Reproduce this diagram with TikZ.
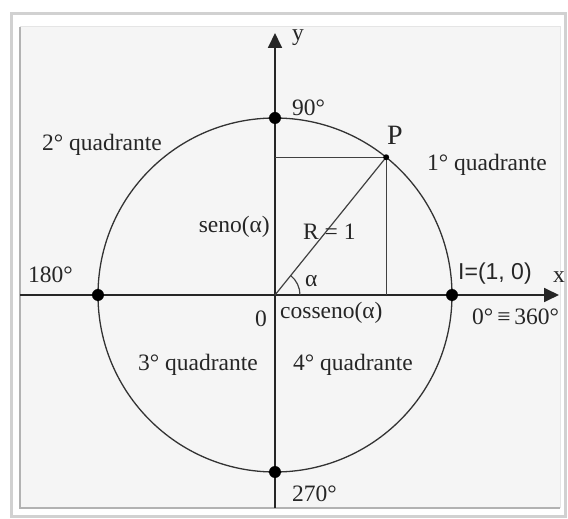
\documentclass[tikz,border=0pt]{standalone}
\usepackage{fontspec}
\setmainfont{Liberation Serif}
\newfontfamily\arialfont{Liberation Sans}
\usetikzlibrary{arrows.meta}

\begin{document}
\begin{tikzpicture}[
  x=1pt,y=1pt,
  font=\fontsize{23.5}{28}\selectfont,
  >={Triangle[length=15pt,width=14pt]},
  axis/.style={->,line width=1.8pt,draw=black!85},
  guide/.style={line width=1.2pt,draw=black!75},
  dot/.style={circle,fill=black,inner sep=0pt,minimum size=12pt},
  lbl/.style={inner sep=0pt,anchor=base west,text=black!85}
]
\useasboundingbox (-275,-224) rectangle (293,295);

% frame
\fill[white] (-275,-224) rectangle (293,295);
\draw[black!18,line width=3pt] (-263,-221) rectangle (290,281);
\fill[white] (-261,-219) rectangle (288,279);
\fill[black!4] (-255,-213) rectangle (285,268);
\draw[black!30,line width=2pt] (-255,268) -- (-255,-213) -- (285,-213);
\draw[black!10,line width=1pt] (-255,268) -- (285,268) -- (285,-213);

% points
\coordinate (O) at (0,0);
\coordinate (xstart) at (-255,0);
\coordinate (xend) at (284,0);
\coordinate (ybot) at (0,-213);
\coordinate (ytop) at (0,262);
\coordinate (P) at (51.1:177);
\coordinate (Px) at (P |- O);
\coordinate (Py) at (P -| O);

% circle and axes
\draw[line width=1.3pt,draw=black!80] (O) circle[radius=177];
\draw[axis] (xstart) -- (xend);
\draw[axis] (ybot) -- (ytop);

% triangle
\draw[guide] (O) -- (P);
\draw[guide] (P) -- (Px);
\draw[guide] (P) -- (Py);
\draw[guide] (25,0) arc[start angle=0,end angle=51.1,radius=25];

\node[dot] (d90) at (0,177) {};
\node[dot] (d180) at (-177,0) {};
\node[dot] (d0) at (177,0) {};
\node[dot] (d270) at (0,-177) {};
\node[circle,fill=black,inner sep=0pt,minimum size=6pt] (pdot) at (P) {};

% labels
\node[lbl] (ylab) at (17,254) {y};
\node[lbl] (l90) at (17,179) {90°};
\node[lbl] (q2) at (-233,144) {2° quadrante};
\node[lbl,font=\fontsize{28}{32}\selectfont] (plab) at (112,150) {P};
\node[lbl] (q1) at (152,124) {1° quadrante};
\node[lbl,anchor=base east] (seno) at (-5,62) {seno(α)};
\node[lbl] (rlab) at (28,55) {R = 1};
\node[lbl] (alab) at (30,8) {α};
\node[lbl] (l180) at (-247,12) {180°};
\node[lbl,font=\arialfont\fontsize{23}{28}\selectfont] (ilab) at (183,15) {I=(1, 0)};
\node[lbl] (xlab) at (278,12) {x};
\node[lbl,anchor=base east] (zero) at (-8,-32) {0};
\node[lbl] (cos) at (5,-24) {cosseno(α)};
\node[lbl] (l360) at (197,-30) {0°\,≡\,360°};
\node[lbl] (q3) at (-137,-76) {3° quadrante};
\node[lbl] (q4) at (18,-76) {4° quadrante};
\node[lbl] (l270) at (17,-207) {270°};
\end{tikzpicture}
\end{document}
